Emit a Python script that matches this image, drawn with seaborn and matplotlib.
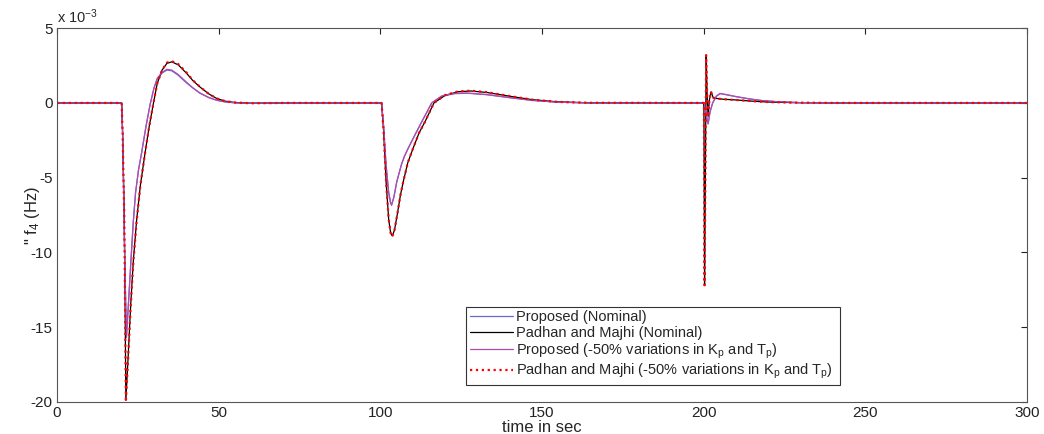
import matplotlib
matplotlib.use("Agg")
import matplotlib.pyplot as plt
import seaborn as sns
import pandas as pd

# ---- data (values in units of 1e-3 Hz) ----
t_prop = [0, 20, 20.3, 21.0, 21.5, 22.2, 22.9, 23.6, 24.3, 25.2, 26.2, 27.5, 28.8, 30.0, 31.0,
          32.5, 34.0, 35.5, 37.5, 40, 42, 44.2, 47, 49.4, 52, 55, 60, 70,
          100, 100.4, 101.0, 101.8, 102.6, 103.2, 103.5, 104.2, 105.1, 106.5, 107.5, 108.7, 110.8,
          112.8, 115.9, 119, 123, 127, 133, 140, 147, 155, 165,
          200, 200.2, 200.5, 201.0, 201.4, 202.0, 202.8, 204, 205.1, 207, 210, 214, 218, 223, 230, 240, 300]
prop_nominal = [0, 0, -2.0, -11.0, -15.6, -13.0, -10.4, -7.9, -6.0, -4.5, -3.3, -1.6, -0.1, 1.0, 1.6,
                2.0, 2.2, 2.15, 1.85, 1.35, 1.0, 0.65, 0.35, 0.18, 0.07, 0.01, -0.02, 0.0,
                0, 0, -1.5, -4.2, -6.0, -6.7, -6.8, -6.3, -5.27, -4.15, -3.55, -3.0, -2.1,
                -1.27, 0.0, 0.45, 0.62, 0.65, 0.55, 0.35, 0.17, 0.05, 0.0,
                0, 0, -0.4, -1.0, -1.4, -0.6, 0.0, 0.45, 0.62, 0.55, 0.42, 0.27, 0.16, 0.08, 0.02, 0.0, 0.0]
prop_var50 = [0, 0, -2.0, -11.2, -15.7, -13.1, -10.5, -8.0, -6.0, -4.5, -3.3, -1.6, -0.1, 1.0, 1.65,
              2.05, 2.25, 2.2, 1.9, 1.4, 1.02, 0.67, 0.36, 0.18, 0.07, 0.01, -0.02, 0.0,
              0, 0, -1.5, -4.2, -6.0, -6.7, -6.85, -6.3, -5.27, -4.15, -3.55, -3.0, -2.1,
              -1.27, 0.0, 0.47, 0.64, 0.66, 0.56, 0.36, 0.17, 0.05, 0.0,
              0, 0, -0.4, -1.0, -1.4, -0.6, 0.0, 0.47, 0.64, 0.56, 0.43, 0.28, 0.16, 0.08, 0.02, 0.0, 0.0]

t_padhan = [0, 20, 20.3, 20.8, 21.0, 21.3, 22.0, 22.8, 23.6, 24.6, 25.8, 27.2, 28.5, 29.8, 31.0,
            32.5, 34.0, 35.5, 37.5, 40, 42, 44.2, 47, 49.4, 52, 55, 60, 70,
            100, 100.4, 101.0, 101.8, 102.6, 103.2, 103.7, 104.4, 105.3, 106.2, 107.1, 108.5,
            110.2, 112.0, 113.8, 116.6, 120, 124, 128, 133, 140, 147, 155, 165,
            200, 200.1, 200.3, 200.55, 200.8, 201.1, 201.4, 201.8, 202.3, 203.0, 204, 206, 210,
            215, 220, 228, 240, 300]
padhan_nominal = [0, 0, -2.1, -7.5, -12.0, -19.9, -17.0, -13.5, -10.6, -7.9, -5.5, -3.4, -1.6, -0.05, 1.3,
                  2.2, 2.65, 2.75, 2.55, 2.0, 1.5, 1.07, 0.6, 0.3, 0.12, 0.03, -0.02, 0.0,
                  0, 0, -1.8, -5.3, -7.8, -8.7, -8.9, -8.5, -7.4, -6.2, -5.27, -4.0,
                  -3.0, -2.0, -1.27, 0.0, 0.5, 0.75, 0.8, 0.7, 0.45, 0.22, 0.07, 0.01,
                  0, -0.3, -12.2, -5.0, 3.2, 0.5, -0.9, 0.2, 0.75, 0.35, 0.3, 0.25, 0.2,
                  0.12, 0.06, 0.02, 0.0, 0.0]
padhan_var50 = [0, 0, -2.1, -7.5, -12.0, -20.0, -17.1, -13.6, -10.7, -8.0, -5.5, -3.4, -1.6, -0.05, 1.3,
                2.2, 2.7, 2.8, 2.6, 2.05, 1.52, 1.08, 0.6, 0.3, 0.12, 0.03, -0.02, 0.0,
                0, 0, -1.8, -5.3, -7.8, -8.7, -8.95, -8.5, -7.4, -6.2, -5.27, -4.0,
                -3.0, -2.0, -1.27, 0.0, 0.52, 0.77, 0.82, 0.72, 0.46, 0.22, 0.07, 0.01,
                0, -0.3, -12.2, -5.0, 3.2, 0.5, -0.9, 0.2, 0.75, 0.35, 0.3, 0.25, 0.2,
                0.12, 0.06, 0.02, 0.0, 0.0]

labels = ["Proposed (Nominal)",
          "Padhan and Majhi (Nominal)",
          "Proposed (-50% variations in K$_\\mathrm{p}$ and T$_\\mathrm{p}$)",
          "Padhan and Majhi (-50% variations in K$_\\mathrm{p}$ and T$_\\mathrm{p}$)"]
x_ticks = [0, 50, 100, 150, 200, 250, 300]
y_ticks = [-20, -15, -10, -5, 0, 5]

# ---- style ----
sns.set_theme(style="white")
plt.rcParams['font.family'] = ['Liberation Sans', 'DejaVu Sans']
plt.rcParams['mathtext.fontset'] = 'custom'
plt.rcParams['mathtext.rm'] = 'Liberation Sans'
plt.rcParams['mathtext.it'] = 'Liberation Sans:italic'
plt.rcParams['axes.unicode_minus'] = False

fig = plt.figure(figsize=(10.44, 4.34), dpi=100)
ax = fig.add_axes([0.0546, 0.074, 0.929, 0.861])

series = [
    (t_prop, prop_nominal, "#6a6ac8", "-", 0.9, labels[0]),
    (t_padhan, padhan_nominal, "#000000", "-", 0.9, labels[1]),
    (t_prop, prop_var50, "#b04cb0", "-", 0.9, labels[2]),
    (t_padhan, padhan_var50, "#ff0000", ":", 1.6, labels[3]),
]
for t, v, c, ls, lw, lab in series:
    df = pd.DataFrame({"t": t, "v": v})
    sns.lineplot(data=df, x="t", y="v", ax=ax, color=c, linestyle=ls, linewidth=lw,
                 label=lab, sort=False, estimator=None)

ax.set_xlim(0, 300)
ax.set_ylim(-20, 5)
ax.set_xticks(x_ticks)
ax.set_yticks(y_ticks)
ax.tick_params(direction="in", top=True, right=True, length=4, width=0.8,
               labelsize=11, colors="#222222", pad=3)
for s in ax.spines.values():
    s.set_color("#555555")
    s.set_linewidth(0.8)

ax.set_xlabel("time in sec", fontsize=12, labelpad=0)
ax.set_ylabel('" f$_4$ (Hz)', fontsize=12)
ax.yaxis.set_label_coords(-0.0155, 0.5)
ax.text(0.0, 1.005, "x 10$^{-3}$", transform=ax.transAxes, ha="left", va="bottom", fontsize=10.5)

leg = ax.legend(loc="lower left", bbox_to_anchor=(0.4216, 0.045, 0.3855, 0.206),
                mode="expand", fontsize=10.5, frameon=True, fancybox=False, borderpad=0.25,
                handlelength=3.0, handletextpad=0.2, labelspacing=0.1, borderaxespad=0)
leg.get_frame().set_edgecolor("#000000")
leg.get_frame().set_linewidth(0.8)

fig.savefig("out.png", dpi=100)
